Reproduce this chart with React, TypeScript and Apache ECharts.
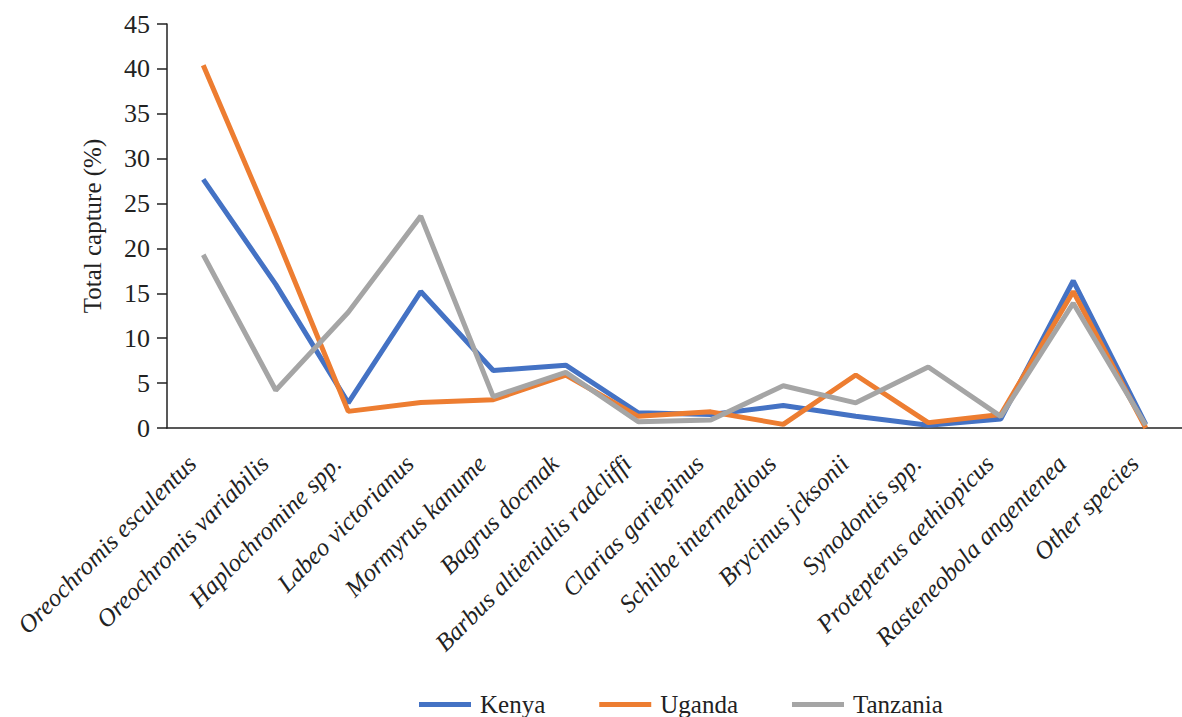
import React, { useEffect, useRef } from "react";
import * as echarts from "echarts";

const categories = [
  "Oreochromis esculentus",
  "Oreochromis variabilis",
  "Haplochromine spp.",
  "Labeo victorianus",
  "Mormyrus kanume",
  "Bagrus docmak",
  "Barbus altienialis radcliffi",
  "Clarias gariepinus",
  "Schilbe intermedious",
  "Brycinus jcksonii",
  "Synodontis spp.",
  "Protepterus aethiopicus",
  "Rasteneobola angentenea",
  "Other species",
];
const kenya = [27.7, 16.0, 2.8, 15.2, 6.4, 7.0, 1.7, 1.5, 2.5, 1.3, 0.3, 1.0, 16.4, 0.4];
const uganda = [40.4, 21.5, 1.85, 2.85, 3.15, 5.9, 1.3, 1.8, 0.4, 5.9, 0.6, 1.5, 15.2, 0.0];
const tanzania = [19.3, 4.2, 12.9, 23.6, 3.5, 6.2, 0.7, 0.9, 4.7, 2.8, 6.8, 1.3, 13.9, 0.3];
const legendNames = ["Kenya", "Uganda", "Tanzania"];

const FONT = "'Liberation Serif', 'Times New Roman', serif";
const TEXT = "#222222";

export default function App() {
  const ref = useRef<HTMLDivElement>(null);
  useEffect(() => {
    if (!ref.current) return;
    const chart = echarts.init(ref.current, undefined, { renderer: "svg" });
    const mk = (name: string, data: number[], color: string) => ({
      name,
      type: "line",
      data,
      symbol: "none",
      lineStyle: { width: 5, color },
      itemStyle: { color },
    });
    chart.setOption({
      animation: false,
      backgroundColor: "#ffffff",
      textStyle: { fontFamily: FONT, color: TEXT },
      color: ["#4472C4", "#ED7D31", "#A5A5A5"],
      grid: { left: 167, right: -7, top: 24, bottom: 289, containLabel: false },
      legend: {
        top: 687,
        left: 414,
        icon: "rect",
        itemWidth: 52,
        itemHeight: 5,
        itemGap: 54,
        textStyle: { fontFamily: FONT, fontSize: 25, color: TEXT, padding: [0, 0, 0, 4] },
        data: legendNames,
      },
      xAxis: {
        type: "category",
        data: categories,
        boundaryGap: true,
        axisLine: { lineStyle: { color: "#222", width: 1.5 } },
        axisTick: { alignWithLabel: true, length: 11, lineStyle: { color: "#222", width: 1.5 } },
        axisLabel: {
          interval: 0,
          rotate: 45,
          margin: 20,
          padding: [0, 16, 0, 0],
          fontFamily: FONT,
          fontStyle: "italic",
          fontSize: 25,
          color: TEXT,
        },
      },
      yAxis: {
        type: "value",
        min: 0,
        max: 45,
        interval: 5,
        name: "Total capture (%)",
        nameLocation: "middle",
        nameGap: 62,
        nameTextStyle: { fontFamily: FONT, fontSize: 25, color: TEXT },
        splitLine: { show: false },
        axisLine: { show: true, lineStyle: { color: "#222", width: 1.5 } },
        axisTick: { show: true, length: 10, lineStyle: { color: "#222", width: 1.5 } },
        axisLabel: { margin: 17, fontFamily: FONT, fontSize: 26, color: TEXT },
      },
      series: [
        mk("Kenya", kenya, "#4472C4"),
        mk("Uganda", uganda, "#ED7D31"),
        mk("Tanzania", tanzania, "#A5A5A5"),
      ],
    });
    return () => chart.dispose();
  }, []);
  return (
    <div
      ref={ref}
      style={{ position: "fixed", left: 0, top: 0, width: 1182, height: 717 }}
    />
  );
}
